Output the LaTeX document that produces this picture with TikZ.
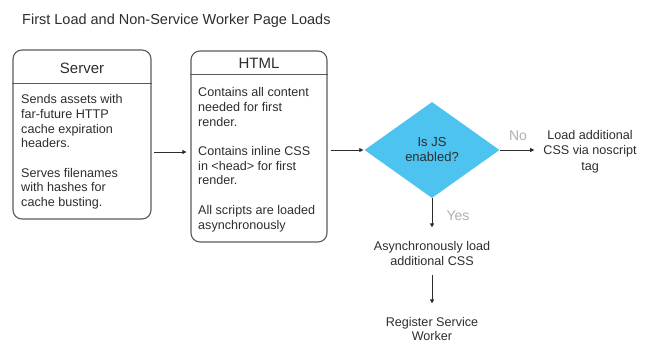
\documentclass[tikz,border=0pt]{standalone}
\usepackage{fontspec}
\setmainfont{Liberation Sans}
\usetikzlibrary{shapes.geometric,arrows.meta}
\definecolor{txt}{RGB}{45,45,45}
\definecolor{lbl}{RGB}{175,175,175}
\definecolor{edge}{RGB}{90,90,90}
\definecolor{dia}{RGB}{77,195,240}
\begin{document}
\begin{tikzpicture}[x=1pt,y=-1pt,
  box/.style={draw=edge,line width=1.1pt,rounded corners=9pt,inner sep=0pt},
  sepline/.style={draw=edge,line width=1pt},
  head/.style={font=\fontsize{15}{17}\selectfont,text=txt,inner sep=0pt},
  body/.style={font=\fontsize{12.6}{14.7}\selectfont,text=txt,inner sep=0pt,align=left},
  ctext/.style={font=\fontsize{12.6}{15.2}\selectfont,text=txt,inner sep=0pt,align=center},
  lab/.style={font=\fontsize{14}{16}\selectfont,text=lbl,inner sep=0pt},
  arr/.style={draw=txt,line width=0.8pt,-{Triangle[length=4pt,width=4pt]}}]
\useasboundingbox (0,0) rectangle (652,343);
% title
\node[font=\fontsize{14.5}{17}\selectfont,text=txt,anchor=base west,inner sep=0pt] (title) at (22,24.5) {First Load and Non-Service Worker Page Loads};
% server box
\node[box,minimum width=138pt,minimum height=169pt] (server) at (82,134.5) {};
\draw[sepline] ([yshift=-34pt]server.north west) -- ([yshift=-34pt]server.north east);
\node[head,anchor=base] (servert) at (82,73.5) {Server};
\node[body,anchor=north west] (serverb) at (21,94.4) {Sends assets with\\far-future HTTP\\cache expiration\\headers.\\[14.7pt]Serves filenames\\with hashes for\\cache busting.};
% html box
\node[box,minimum width=136pt,minimum height=191pt] (html) at (259,146.5) {};
\draw[sepline] ([yshift=-24pt]html.north west) -- ([yshift=-24pt]html.north east);
\node[head,anchor=base] (htmlt) at (259,68.5) {HTML};
\node[body,anchor=north west] (htmlb) at (198,87.4) {Contains all content\\needed for first\\render.\\[14.7pt]Contains inline CSS\\in <head> for first\\render.\\[14.7pt]All scripts are loaded\\asynchronously};
% decision
\node[diamond,fill=dia,minimum width=135pt,minimum height=96pt,shape aspect=1.406,inner sep=0pt,
  font=\fontsize{13}{15}\selectfont,text=txt,align=center] (dec) at (432,150) {Is JS\\enabled?};
% other texts
\node[ctext,anchor=north] (noscr) at (590,130.4) {Load additional\\CSS via noscript\\tag};
\node[ctext,anchor=north] (async) at (432,241.4) {Asynchronously load\\additional CSS};
\node[ctext,anchor=north,font=\fontsize{12.6}{13.8}\selectfont] (reg) at (432,317.4) {Register Service\\Worker};
% connectors
\draw[arr,shorten <=2pt,shorten >=4pt] (server.east |- 0,152) -- (html.west |- 0,152);
\draw[arr,shorten <=3pt,shorten >=1pt] (html.east |- dec.west) -- (dec.west);
\draw[arr,shorten >=9pt] (dec.east) -- (noscr.west |- dec.east);
\draw[arr,shorten >=14pt] (dec.south) -- (async.north);
\draw[arr,shorten <=9pt,shorten >=14pt] (async.south) -- (reg.north);
% labels
\node[lab,anchor=base] (nolab) at (518,140) {No};
\node[lab,anchor=base] (yeslab) at (458,220) {Yes};
\end{tikzpicture}
\end{document}
